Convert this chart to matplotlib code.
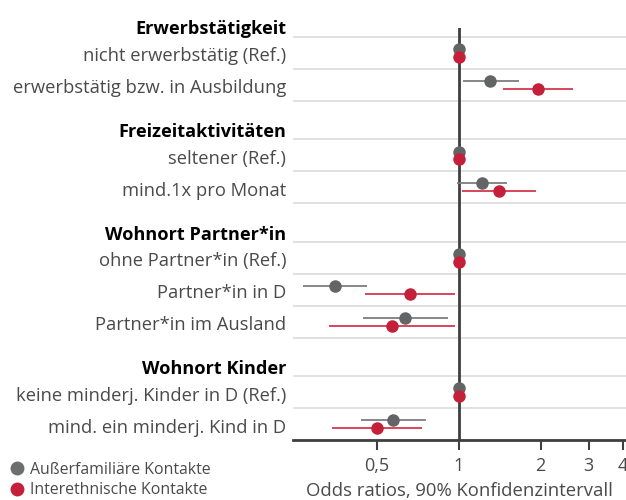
import matplotlib
matplotlib.use("Agg")
import matplotlib.pyplot as plt
from matplotlib.ticker import FixedLocator, FixedFormatter, NullLocator
from matplotlib.lines import Line2D

plt.rcParams['font.family'] = ['Open Sans', 'DejaVu Sans']

groups = ["Erwerbstätigkeit", "Freizeitaktivitäten", "Wohnort Partner*in", "Wohnort Kinder"]
group_rows = [
    ["nicht erwerbstätig (Ref.)", "erwerbstätig bzw. in Ausbildung"],
    ["seltener (Ref.)", "mind.1x pro Monat"],
    ["ohne Partner*in (Ref.)", "Partner*in in D", "Partner*in im Ausland"],
    ["keine minderj. Kinder in D (Ref.)", "mind. ein minderj. Kind in D"],
]
# estimates and CIs, flattened in row order
gray_or = [1.0, 1.30, 1.0, 1.22, 1.0, 0.352, 0.635, 1.0, 0.575]
gray_lo = [None, 1.034, None, 0.983, None, 0.268, 0.443, None, 0.437]
gray_hi = [None, 1.66, None, 1.51, None, 0.461, 0.917, None, 0.757]
red_or = [1.0, 1.95, 1.0, 1.41, 1.0, 0.663, 0.571, 1.0, 0.50]
red_lo = [None, 1.45, None, 1.028, None, 0.452, 0.334, None, 0.343]
red_hi = [None, 2.64, None, 1.93, None, 0.972, 0.972, None, 0.730]
series_names = ["Außerfamiliäre Kontakte", "Interethnische Kontakte"]
xticks = [0.5, 1, 2, 3, 4]
xticklabels = ["0,5", "1", "2", "3", "4"]

GRAY = "#636466"
GRAY_LINE = "#7d7d7f"
RED = "#c4203a"
RED_LINE = "#d3374f"
LABEL = "#4a4a4a"

fig = plt.figure(figsize=(6.26, 5.0), dpi=100)
ax = fig.add_axes([293/626, 1-440/500, 1-293/626, (440-28)/500])
ax.set_xscale("log")
ax.set_xlim(0.246, 4.12)
ax.set_ylim(440, 28)

top0 = 37.0
row_h = 31.9
gap = 38.7
dodge = 3.9
text_shift = 3.5

centers = []
boundaries = []
header_y = []
y = top0
for gi, rows in enumerate(group_rows):
    header_y.append(y - 11 + text_shift)
    boundaries.append(y)
    for r in rows:
        centers.append(y + row_h/2)
        y += row_h
        boundaries.append(y)
    y += gap

for b in boundaries:
    ax.axhline(b, color="#dedede", lw=1.3, zorder=0)

ax.axvline(1, color="#3f3f3f", lw=2.0, zorder=1)

for i, c in enumerate(centers):
    yg, yr = c - dodge, c + dodge
    if gray_lo[i] is not None:
        ax.plot([gray_lo[i], gray_hi[i]], [yg, yg], color=GRAY_LINE, lw=1.3, zorder=2, solid_capstyle="butt")
    if red_lo[i] is not None:
        ax.plot([red_lo[i], red_hi[i]], [yr, yr], color=RED_LINE, lw=1.3, zorder=2, solid_capstyle="butt")
    ax.plot(gray_or[i], yg, "o", color=GRAY, ms=9, mec="none", zorder=3)
    ax.plot(red_or[i], yr, "o", color=RED, ms=9, mec="none", zorder=4)

# labels
flat_labels = [l for rows in group_rows for l in rows]
for lab, c in zip(flat_labels, centers):
    ax.text(-0.021, c + text_shift, lab, transform=ax.get_yaxis_transform(), ha="right", va="center",
            fontsize=13.2, color=LABEL, clip_on=False)
for g, hy in zip(groups, header_y):
    ax.text(-0.021, hy, g, transform=ax.get_yaxis_transform(), ha="right", va="center",
            fontsize=13.1, color="black", fontweight="bold", clip_on=False)

for s in ["top", "right", "left"]:
    ax.spines[s].set_visible(False)
ax.spines["bottom"].set_color("#3f3f3f")
ax.spines["bottom"].set_linewidth(2.0)
ax.yaxis.set_major_locator(NullLocator())
ax.yaxis.set_minor_locator(NullLocator())
ax.xaxis.set_major_locator(FixedLocator(xticks))
ax.xaxis.set_major_formatter(FixedFormatter(xticklabels))
ax.xaxis.set_minor_locator(NullLocator())
ax.tick_params(axis="x", length=7.2, width=1.5, color="#3f3f3f", labelsize=13, labelcolor=LABEL, pad=5)
ax.set_xlabel("Odds ratios, 90% Konfidenzintervall", fontsize=13.3, color=LABEL, labelpad=5)

handles = [Line2D([], [], ls="none", marker="o", ms=10, color="#6d6e71", mec="none"),
           Line2D([], [], ls="none", marker="o", ms=10, color=RED, mec="none")]
fig.legend(handles, series_names, loc="lower left", bbox_to_anchor=(0.0, -0.016), frameon=False,
           fontsize=11.4, labelcolor=LABEL, handletextpad=0.3, labelspacing=0.3,
           handlelength=1.0, borderaxespad=0.2)

fig.savefig("out.png", dpi=100)
